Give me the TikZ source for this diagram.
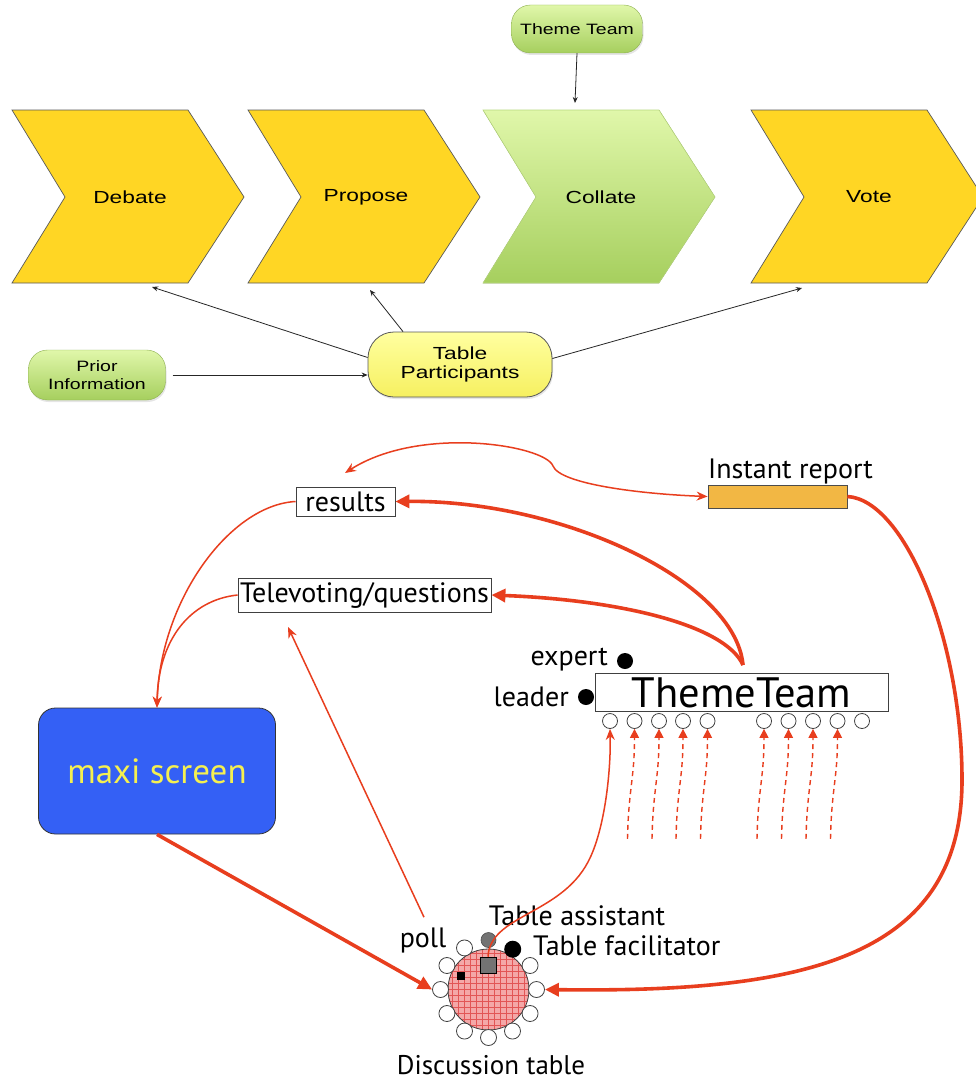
\documentclass[tikz,border=0pt]{standalone}
\usepackage{fontspec}
\usepackage{graphicx}
\setmainfont{Liberation Sans}
\newfontfamily\hum{PT Sans}
\usetikzlibrary{arrows.meta,shadows,calc}
\definecolor{chev}{RGB}{255,214,36}
\definecolor{greenT}{RGB}{224,247,170}
\definecolor{greenB}{RGB}{166,207,94}
\definecolor{tpyT}{RGB}{255,255,160}
\definecolor{tpyB}{RGB}{246,240,96}
\definecolor{rd}{RGB}{232,62,30}
\definecolor{scr}{RGB}{52,96,245}
\definecolor{scrtxt}{RGB}{245,240,80}
\definecolor{rep}{RGB}{242,183,68}
\definecolor{pinkT}{RGB}{244,168,168}
\definecolor{gridc}{RGB}{226,86,86}
\newcommand\wt[1]{\scalebox{1.3}[1]{#1}}
\begin{document}
\begin{tikzpicture}[x=1pt,y=-1pt,
  topfont/.style={font=\fontsize{17.5}{19}\selectfont},
  smallfont/.style={font=\fontsize{15}{17.5}\selectfont},
  chevline/.style={draw=black!65, line width=0.7pt},
  greenpill/.style={rounded corners=19pt, top color=greenT, bottom color=greenB,
     draw=greenB!85!black, line width=0.4pt, smallfont, align=center, inner sep=0pt,
     drop shadow={shadow xshift=1pt, shadow yshift=-2pt, opacity=0.2}},
  toparrow/.style={draw=black!85, line width=0.8pt, -{Stealth[length=6pt,width=5pt]}},
  lbl/.style={font=\hum\fontsize{28}{30}\selectfont, inner sep=0pt},
  box/.style={draw=black!75, line width=0.8pt, fill=white, inner sep=0pt, lbl},
  thickarrow/.style={draw=rd, line width=3.6pt, -{Triangle[length=14pt,width=13pt]}},
  thinarrow/.style={draw=rd, line width=1.5pt, -{Stealth[length=11pt,width=9pt]}},
  dasharrow/.style={draw=rd, line width=1.4pt, dash pattern=on 5pt off 4pt, -{Triangle[length=9pt,width=9pt]}},
  seat/.style={circle, draw=black!75, fill=white, line width=0.8pt, minimum size=15pt, inner sep=0pt},
  dotnode/.style={circle, fill=black, minimum size=16pt, inner sep=0pt}
]
\useasboundingbox (0,0) rectangle (975,1081);
\fill[white] (0,0) rectangle (975,1081);

% ---------------- top part ----------------
\foreach \x/\n/\t in {12/debate/Debate, 248/propose/Propose, 751/vote/Vote} {
  \filldraw[fill=chev, chevline] (\x,110) -- ++(176,0) -- ++(56,87) -- ++(-56,86) -- ++(-176,0) -- ++(53,-86) -- cycle;
  \node[topfont] (\n) at (\x+118,197) {\wt{\t}};
}
\fill[top color=greenT, bottom color=greenB] (483,110) -- ++(176,0) -- ++(56,87) -- ++(-56,86) -- ++(-176,0) -- ++(53,-86) -- cycle;
\draw[greenB!80, line width=0.6pt] (483,110) -- ++(176,0) -- ++(56,87) -- ++(-56,86) -- ++(-176,0) -- ++(53,-86) -- cycle;
\node[topfont] (collate) at (601,197) {\wt{Collate}};

\coordinate (collateT) at (575,103);
\coordinate (debateB) at (152,287);
\coordinate (proposeB) at (370,290);
\coordinate (voteB) at (802,288);

\node[greenpill, minimum width=131pt, minimum height=48pt] (theme) at (577,29) {\wt{Theme Team}};
\node[greenpill, minimum width=137pt, minimum height=50pt] (prior) at (97,375) {\wt{Prior}\\\wt{Information}};
\node[rounded corners=26pt, top color=tpyT, bottom color=tpyB, draw=black!65, line width=0.8pt,
      minimum width=184pt, minimum height=65pt, inner sep=0pt, align=center,
      font=\fontsize{17.5}{19.5}\selectfont,
      drop shadow={shadow xshift=1pt, shadow yshift=-2pt, opacity=0.2}] (tp) at (460,364.5)
      {\wt{Table}\\\wt{Participants}};

\draw[toparrow] (theme.south) -- (collateT);
\draw[toparrow] ($(tp.west)+(0,-7)$) -- (debateB);
\draw[toparrow] (tp.150) -- (proposeB);
\draw[toparrow] ($(tp.east)+(0,-6)$) -- (voteB);
\draw[toparrow, shorten <=7pt] (prior.east) -- (prior.east -| tp.west);

% ---------------- bottom part ----------------
\node[box, minimum width=99pt, minimum height=29pt] (results) at (345.5,501.5) {results};
\node[box, minimum width=253pt, minimum height=34pt] (tele) at (364.5,595) {Televoting/questions};
\node[draw=black!70, line width=0.8pt, fill=rep, minimum width=139pt, minimum height=23pt, inner sep=0pt] (rep) at (777.5,496.5) {};
\node[lbl, anchor=west] (replbl) at (708,471) {Instant report};
\node[rounded corners=17pt, fill=scr, draw=black!80, line width=0.8pt, minimum width=237pt, minimum height=126pt,
      font=\hum\fontsize{35}{37}\selectfont, text=scrtxt, inner sep=0pt] (scr) at (157,771) {maxi screen};
\node[box, minimum width=293pt, minimum height=38pt, font=\hum\fontsize{42.5}{44}\selectfont] (tt) at (741.5,692.5) {ThemeTeam};

\node[lbl, anchor=east] (expert) at (608,660) {expert};
\node[dotnode] (expdot) at (625,661) {};
\node[lbl, anchor=east] (leader) at (569,697) {leader};
\node[dotnode] (leaddot) at (586,697) {};

% theme team seats
\foreach \i/\x in {1/610,2/634.5,3/659,4/683,5/707.5,6/764,7/788.5,8/813,9/837.5,10/862} {
  \node[seat] (c\i) at (\x,721) {};
}

% discussion table
\node[circle, minimum size=81pt, inner sep=0pt, fill=pinkT, draw=black!75, line width=0.8pt,
  path picture={
    \foreach \k in {-42,-36,...,42} {
      \draw[gridc, line width=0.45pt] ($(path picture bounding box.center)+(\k,-45)$) -- ++(0,90);
      \draw[gridc, line width=0.45pt] ($(path picture bounding box.center)+(-45,\k)$) -- ++(90,0);
    }
  }] (tab) at (488.5,989.5) {};
\foreach \a in {0,30,120,150,180,210,240,270,300,330} {
  \node[seat, minimum size=16pt] (ch\a) at ($(tab.center)+(-\a:48)$) {};
}
\node[circle, fill=black!55, draw=black!70, line width=0.6pt, minimum size=15pt, inner sep=0pt] (assist) at ($(tab.center)+(0,-49.5)$) {};
\node[circle, fill=black, minimum size=17pt, inner sep=0pt] (facil) at ($(tab.center)+(-59:47)$) {};
\node[fill=black!55, draw=black, line width=0.6pt, minimum size=16pt, inner sep=0pt] (sq) at (488,965) {};
\node[fill=black, minimum size=8pt, inner sep=0pt] (sq2) at (461,976) {};

\node[lbl] (assistlbl) at (577,916) {Table assistant};
\node[lbl, anchor=west] (faciltxt) at (533,946) {Table facilitator};
\node[lbl] (poll) at (423,940) {poll};
\node[lbl, font=\hum\fontsize{27}{29}\selectfont, anchor=base] (disc) at (491,1074) {Discussion table};

% connectors
\coordinate (ttTop) at (743,665);
\coordinate (resAbove) at (345,473);
\coordinate (teleBelow) at (288,627);

\draw[thickarrow] (ttTop) .. controls (735,580) and (560,500) .. (results.east);
\draw[thickarrow] (ttTop) .. controls (725,625) and (620,600) .. (tele.east);
\draw[thickarrow] (rep.east) .. controls (905,500) and (962,640) .. (962,780)
   .. controls (962,960) and (800,993) .. (ch0.east);
\draw[thickarrow] (scr.south) -- (ch180.west);

\draw[draw=rd, line width=1.5pt, {Stealth[length=11pt,width=9pt]}-{Stealth[length=11pt,width=9pt]}]
   (resAbove) .. controls (420,425) and (545,445) .. (553,466)
   .. controls (560,484) and (640,494) .. (rep.west);
\draw[thinarrow] (results.west) .. controls (230,505) and (160,600) .. (scr.north);
\draw[thinarrow] (tele.west) .. controls (190,600) and (158,640) .. (scr.north);
\draw[thinarrow] (poll.north) ++(1,-10) -- (teleBelow);
\draw[thinarrow] (sq.north) .. controls (490,915) and (560,915) .. (588,862)
   .. controls (605,830) and (611,770) .. (c1.south);

\foreach \i in {2,3,4,5,6,7,8,9} {
  \draw[dasharrow] ($(c\i.south)+(-7,110)$) .. controls ($(c\i.south)+(-6,60)$) and ($(c\i.south)+(0,50)$) .. (c\i.south);
}
\end{tikzpicture}
\end{document}
